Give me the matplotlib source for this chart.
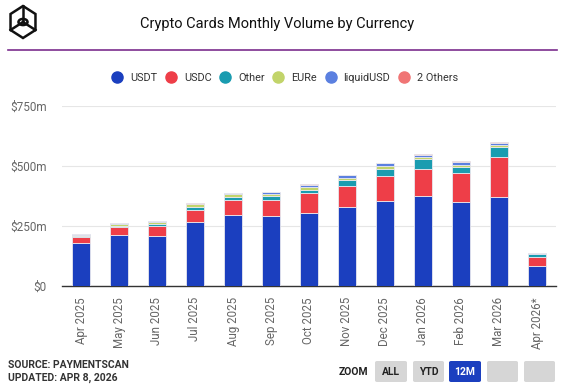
import numpy as np
import matplotlib
matplotlib.use("Agg")
import matplotlib.pyplot as plt
from matplotlib.patches import FancyBboxPatch, Polygon, Circle
from matplotlib.lines import Line2D

plt.rcParams["font.family"] = ["Roboto", "DejaVu Sans"]

months = ["Apr 2025", "May 2025", "Jun 2025", "Jul 2025", "Aug 2025", "Sep 2025",
          "Oct 2025", "Nov 2025", "Dec 2025", "Jan 2026", "Feb 2026", "Mar 2026",
          "Apr 2026*"]

# monthly volume in $m, per currency (stacked bottom to top)
usdt = [178, 211, 210, 268, 297, 290, 305, 330, 355, 376, 349, 372, 85]
usdc = [25, 34, 39, 50, 61, 67, 84, 88, 105, 113, 123, 164, 36]
other = [5, 6, 9, 12, 12, 18, 11, 24, 28, 39, 25, 42, 12]
eure = [6, 9, 9, 10, 13, 8, 11, 9, 12, 11, 7, 9, 1]
liquidusd = [2, 2, 2, 3, 3, 7, 11, 10, 11, 8, 13, 10, 2]
two_others = [1, 1, 3, 1, 2, 1, 2, 2, 2, 2, 2, 5, 1]

series_names = ["USDT", "USDC", "Other", "EURe", "liquidUSD", "2 Others"]
series_colors = ["#1b3fbf", "#ee3e48", "#1a9cb0", "#c2d46a", "#5b80e0", "#f07575"]

yticks = [0, 250, 500, 750]
ytick_labels = ["$0", "$250m", "$500m", "$750m"]

W, H = 565, 386
fig = plt.figure(figsize=(W / 100, H / 100), dpi=100)


def fx(x):
    return x / W


def fy(y):
    return 1 - y / H


# plot area
ax = fig.add_axes([fx(62), fy(286), fx(556) - fx(62), fy(106) - fy(286)])
x = np.arange(len(months))
bottom = np.zeros(len(months))
all_series = [usdt, usdc, other, eure, liquidusd, two_others]
for vals, name, col in zip(all_series, series_names, series_colors):
    ax.bar(x, vals, bottom=bottom, width=0.45, color=col, edgecolor="#e8e8ee",
           linewidth=0.6, label=name, zorder=3)
    bottom += np.array(vals)

ax.set_xlim(-0.5, len(months) - 0.5)
ax.set_ylim(0, 750)
ax.set_yticks(yticks)
ax.set_yticklabels(ytick_labels)
ax.set_xticks(x)
ax.set_xticklabels(months, rotation=90)
ax.tick_params(axis="y", length=0, pad=11, labelsize=8.5, labelcolor="#666666")
ax.tick_params(axis="x", length=0, pad=8, labelsize=8.3, labelcolor="#666666")
ax.grid(axis="y", color="#e6e6e6", linewidth=0.8, zorder=0)
for s in ["top", "right", "left"]:
    ax.spines[s].set_visible(False)
ax.spines["bottom"].set_color("#333333")
ax.spines["bottom"].set_linewidth(1.0)

# legend
handles = [Line2D([], [], marker="o", linestyle="", markersize=8, color=c)
           for c in series_colors]
fig.legend(handles, series_names, loc="center", bbox_to_anchor=(fx(285), fy(78)),
           ncol=6, frameon=False, fontsize=7.8, handlelength=1.0, handletextpad=0.7,
           columnspacing=0.75, labelcolor="#333333")

# title and header line
fig.text(fx(277), fy(24), "Crypto Cards Monthly Volume by Currency", ha="center",
         va="center", fontsize=10.5, color="#111111")
fig.add_artist(Line2D([fx(8), fx(557)], [fy(50), fy(50)], color="#7b2d8e", lw=1.2))

# logo: hexagon cube outline
cx, cy, r = 23, 22, 16
ang = np.deg2rad(np.arange(90, 450, 60))
hexpts = [(fx(cx + r * 0.9 * np.cos(a)), fy(cy - r * np.sin(a))) for a in ang]
fig.add_artist(Polygon(hexpts, closed=True, fill=False, edgecolor="#111111", lw=1.8,
                       transform=fig.transFigure))
for a in [90, 210, 330]:
    a = np.deg2rad(a)
    fig.add_artist(Line2D([fx(cx), fx(cx + r * 0.9 * np.cos(a))],
                          [fy(cy), fy(cy - r * np.sin(a))], color="#111111", lw=1.8))
fig.add_artist(Circle((fx(cx), fy(cy)), 0.008, transform=fig.transFigure,
                      facecolor="white", edgecolor="#111111", lw=1.8))

# footer
fig.text(fx(8), fy(365), "SOURCE: PAYMENTSCAN", fontsize=7.5, fontweight="bold",
         color="#333333", va="center")
fig.text(fx(8), fy(378), "UPDATED: APR 8, 2026", fontsize=7.5, fontweight="bold",
         color="#333333", va="center")
fig.text(fx(353), fy(372), "ZOOM", fontsize=7.5, fontweight="bold", color="#222222",
         ha="center", va="center")

buttons = [("ALL", 375, 407), ("YTD", 413, 444), ("12M", 449, 481), ("", 487, 518),
           ("", 524, 555)]
for label, x0, x1 in buttons:
    active = label == "12M"
    fc = "#1b3fbf" if active else "#d6d6d6"
    tc = "white" if active else "#222222"
    fig.add_artist(FancyBboxPatch((fx(x0), fy(382)), fx(x1) - fx(x0), fy(361) - fy(382),
                                  boxstyle="round,pad=0,rounding_size=0.004",
                                  transform=fig.transFigure, facecolor=fc,
                                  edgecolor="none"))
    if label:
        fig.text(fx((x0 + x1) / 2), fy(372), label, fontsize=7.5, fontweight="bold",
                 color=tc, ha="center", va="center")

fig.savefig("out.png", dpi=100, facecolor="white")
